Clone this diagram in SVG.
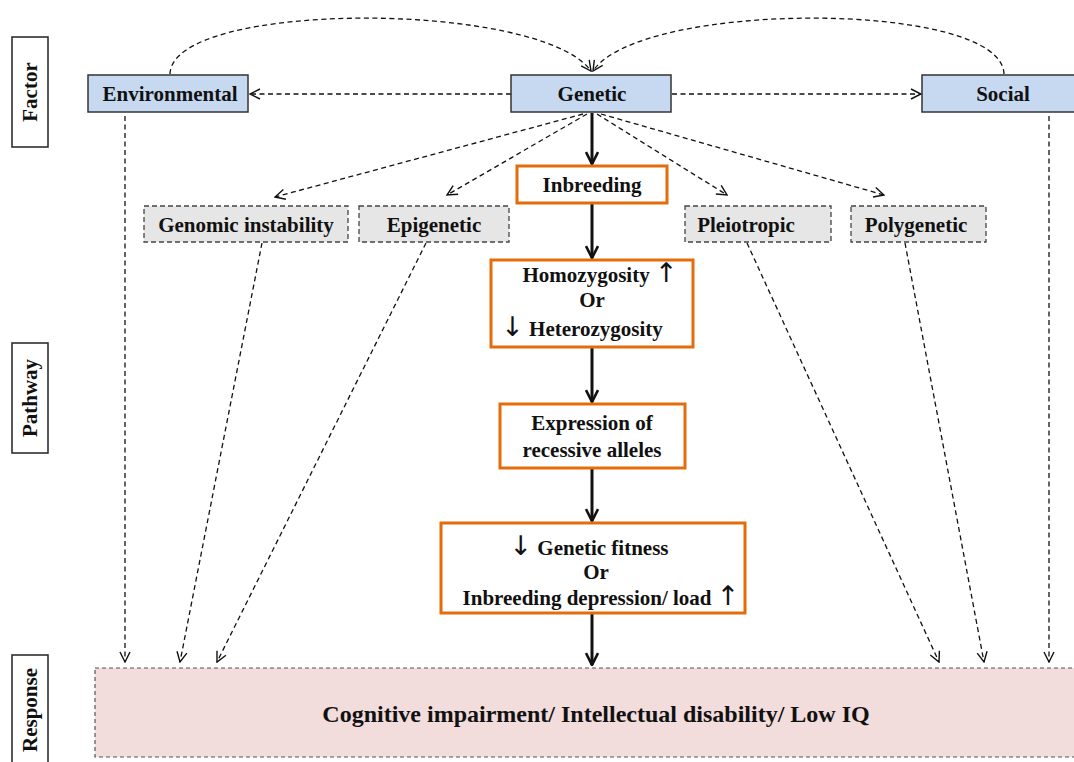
<svg xmlns="http://www.w3.org/2000/svg" width="1074" height="762" viewBox="0 0 1074 762">
<defs>
<style>
text{font-family:"Liberation Serif","Times New Roman",Tinos,"DejaVu Serif",serif;font-weight:bold;fill:#111;}
.t{font-size:21px;text-anchor:middle;}
.t24{font-size:24px;text-anchor:middle;}
.arr{font-family:"DejaVu Sans",sans-serif;font-weight:normal;font-size:27px;fill:#111;}
.lab{fill:#fff;stroke:#222;stroke-width:1.5;}
.blue{fill:#C6D9F1;stroke:#333;stroke-width:1.5;}
.gray{fill:#E6E6E6;stroke:#444;stroke-width:1.3;stroke-dasharray:5 3;}
.orange{fill:#fff;stroke:#E46C0A;stroke-width:3;}
.resp{fill:#F2DCDC;stroke:#555;stroke-width:1.2;stroke-dasharray:4 3;}
.dash{fill:none;stroke:#111;stroke-width:1.3;stroke-dasharray:5 3.5;marker-end:url(#open);}
.solid{fill:none;stroke:#111;stroke-width:3;marker-end:url(#bold);}
</style>
<marker id="open" viewBox="0 0 12 12" refX="11" refY="6" markerWidth="12" markerHeight="12" markerUnits="userSpaceOnUse" orient="auto">
<path d="M1,1 L11,6 L1,11" fill="none" stroke="#111" stroke-width="1.4"/>
</marker>
<marker id="bold" viewBox="0 0 14 14" refX="13" refY="7" markerWidth="14" markerHeight="14" markerUnits="userSpaceOnUse" orient="auto">
<path d="M1,1 L13,7 L1,13" fill="none" stroke="#111" stroke-width="2.6"/>
</marker>
</defs>
<rect width="1074" height="762" fill="#fff"/>

<g id="label-factor"><rect class="lab" x="12" y="37" width="36" height="110"/><text class="t" transform="translate(37,92) rotate(-90)">Factor</text></g>
<g id="label-pathway"><rect class="lab" x="12" y="343" width="36" height="110"/><text class="t" transform="translate(37,398) rotate(-90)">Pathway</text></g>
<g id="label-response"><rect class="lab" x="12" y="655" width="36" height="115"/><text class="t" transform="translate(37,710) rotate(-90)">Response</text></g>

<g id="connectors">
<path class="dash" d="M170,74 C172,0 540,0 591,71"/>
<path class="dash" d="M1004,74 C1002,0 640,0 593,71"/>
<path class="dash" d="M511,94 L250,94"/>
<path class="dash" d="M672,94 L921,94"/>
<path class="dash" d="M583,114 L275,197"/>
<path class="dash" d="M587,114 L447,195"/>
<path class="dash" d="M597,114 L727,195"/>
<path class="dash" d="M601,114 L884,195"/>
<path class="dash" d="M125,116 L125,662"/>
<path class="dash" d="M262,243 L180,662"/>
<path class="dash" d="M426,243 L217,662"/>
<path class="dash" d="M747,243 L939,662"/>
<path class="dash" d="M905,243 L984,662"/>
<path class="dash" d="M1049,116 L1049,662"/>
<path class="solid" d="M592,113 L592,164"/>
<path class="solid" d="M592,203 L592,258"/>
<path class="solid" d="M592,348 L592,402"/>
<path class="solid" d="M592,469 L592,521"/>
<path class="solid" d="M592,614 L592,665"/>
</g>

<g id="environmental"><rect class="blue" x="88" y="75" width="160" height="37"/><text class="t" x="170" y="101">Environmental</text></g>
<g id="genetic"><rect class="blue" x="511" y="75" width="160" height="37"/><text class="t" x="592" y="101">Genetic</text></g>
<g id="social"><rect class="blue" x="922" y="75" width="165" height="37"/><text class="t" x="1003" y="101">Social</text></g>

<g id="genomic-instability"><rect class="gray" x="144" y="206" width="204" height="36"/><text class="t" x="246" y="232">Genomic instability</text></g>
<g id="epigenetic"><rect class="gray" x="359" y="206" width="150" height="36"/><text class="t" x="434" y="232">Epigenetic</text></g>
<g id="pleiotropic"><rect class="gray" x="685" y="206" width="146" height="36"/><text class="t" x="746" y="232">Pleiotropic</text></g>
<g id="polygenetic"><rect class="gray" x="851" y="206" width="135" height="36"/><text class="t" x="916" y="232">Polygenetic</text></g>

<g id="inbreeding"><rect class="orange" x="517" y="166" width="150" height="37"/><text class="t" x="592" y="192">Inbreeding</text></g>
<g id="homozygosity"><rect class="orange" x="491" y="260" width="202" height="87"/>
<text class="t" x="600" y="282">Homozygosity <tspan class="arr">↑</tspan></text>
<text class="t" x="592" y="307">Or</text>
<text class="t" x="582" y="336"><tspan class="arr">↓</tspan> Heterozygosity</text></g>
<g id="expression"><rect class="orange" x="500" y="404" width="185" height="64"/>
<text class="t" x="592" y="430">Expression of</text>
<text class="t" x="592" y="457">recessive alleles</text></g>
<g id="fitness"><rect class="orange" x="441" y="523" width="304" height="90"/>
<text class="t" x="589" y="555"><tspan class="arr">↓</tspan> Genetic fitness</text>
<text class="t" x="596" y="579">Or</text>
<text class="t" x="601" y="605">Inbreeding depression/ load <tspan class="arr">↑</tspan></text></g>

<g id="response"><rect class="resp" x="95" y="668" width="985" height="89"/><text class="t24" x="596" y="722">Cognitive impairment/ Intellectual disability/ Low IQ</text></g>
</svg>
